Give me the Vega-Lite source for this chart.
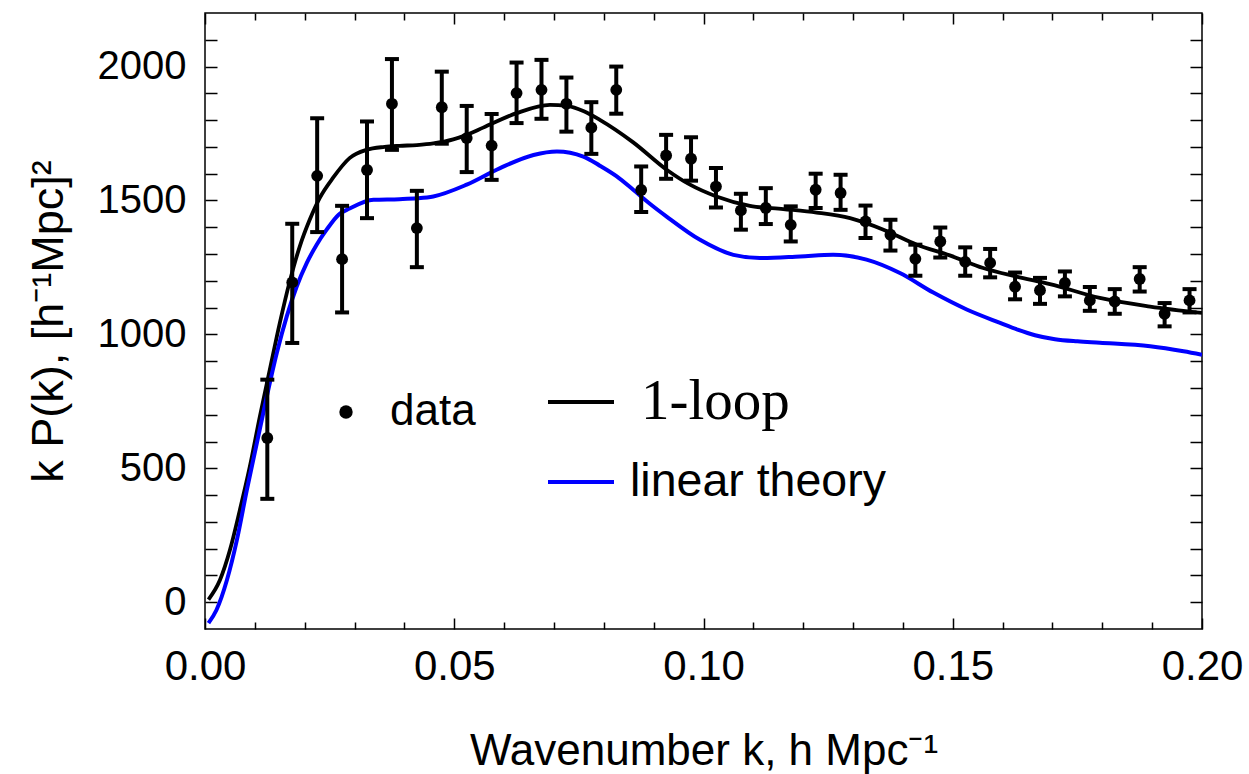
{
  "$schema": "https://vega.github.io/schema/vega-lite/v6.json",
  "width": 997,
  "height": 616,
  "autosize": "none",
  "padding": {"left": 205, "top": 13, "right": 47, "bottom": 145},
  "background": "white",
  "config": {
    "view": {"stroke": "black", "strokeWidth": 1.5},
    "font": "Liberation Sans",
    "axis": {
      "grid": false,
      "domain": false,
      "tickColor": "black",
      "tickWidth": 1.5,
      "labelColor": "black",
      "titleColor": "black",
      "labelFont": "Liberation Sans",
      "titleFont": "Liberation Sans",
      "titleFontWeight": "normal",
      "labelOverlap": false,
      "labelBound": false,
      "labelFlush": false
    },
    "legend": {"labelColor": "black", "labelFont": "Liberation Sans", "labelLimit": 0}
  },
  "datasets": {
    "loop": [
      {"k": 0.0007, "v": 10, "s": "1-loop"},
      {"k": 0.003, "v": 83, "s": "1-loop"},
      {"k": 0.005, "v": 195, "s": "1-loop"},
      {"k": 0.007, "v": 345, "s": "1-loop"},
      {"k": 0.009, "v": 507, "s": "1-loop"},
      {"k": 0.011, "v": 693, "s": "1-loop"},
      {"k": 0.013, "v": 868, "s": "1-loop"},
      {"k": 0.015, "v": 1042, "s": "1-loop"},
      {"k": 0.017, "v": 1198, "s": "1-loop"},
      {"k": 0.019, "v": 1328, "s": "1-loop"},
      {"k": 0.021, "v": 1428, "s": "1-loop"},
      {"k": 0.023, "v": 1509, "s": "1-loop"},
      {"k": 0.0257, "v": 1585, "s": "1-loop"},
      {"k": 0.029, "v": 1658, "s": "1-loop"},
      {"k": 0.0324, "v": 1689, "s": "1-loop"},
      {"k": 0.036, "v": 1700, "s": "1-loop"},
      {"k": 0.039, "v": 1704, "s": "1-loop"},
      {"k": 0.0425, "v": 1707, "s": "1-loop"},
      {"k": 0.0458, "v": 1713, "s": "1-loop"},
      {"k": 0.0498, "v": 1728, "s": "1-loop"},
      {"k": 0.0525, "v": 1745, "s": "1-loop"},
      {"k": 0.0558, "v": 1772, "s": "1-loop"},
      {"k": 0.0625, "v": 1826, "s": "1-loop"},
      {"k": 0.0692, "v": 1857, "s": "1-loop"},
      {"k": 0.0726, "v": 1853, "s": "1-loop"},
      {"k": 0.076, "v": 1833, "s": "1-loop"},
      {"k": 0.0792, "v": 1801, "s": "1-loop"},
      {"k": 0.0859, "v": 1717, "s": "1-loop"},
      {"k": 0.0926, "v": 1615, "s": "1-loop"},
      {"k": 0.0973, "v": 1559, "s": "1-loop"},
      {"k": 0.1026, "v": 1515, "s": "1-loop"},
      {"k": 0.1093, "v": 1480, "s": "1-loop"},
      {"k": 0.116, "v": 1468, "s": "1-loop"},
      {"k": 0.1227, "v": 1455, "s": "1-loop"},
      {"k": 0.1294, "v": 1434, "s": "1-loop"},
      {"k": 0.1361, "v": 1391, "s": "1-loop"},
      {"k": 0.1428, "v": 1335, "s": "1-loop"},
      {"k": 0.1494, "v": 1295, "s": "1-loop"},
      {"k": 0.1561, "v": 1248, "s": "1-loop"},
      {"k": 0.1628, "v": 1216, "s": "1-loop"},
      {"k": 0.1695, "v": 1188, "s": "1-loop"},
      {"k": 0.1795, "v": 1136, "s": "1-loop"},
      {"k": 0.1896, "v": 1104, "s": "1-loop"},
      {"k": 0.2, "v": 1080, "s": "1-loop"}
    ],
    "linear": [
      {"k": 0.0007, "v": -78, "s": "linear theory"},
      {"k": 0.0023, "v": -29, "s": "linear theory"},
      {"k": 0.0044, "v": 83, "s": "linear theory"},
      {"k": 0.0064, "v": 233, "s": "linear theory"},
      {"k": 0.0084, "v": 420, "s": "linear theory"},
      {"k": 0.0104, "v": 594, "s": "linear theory"},
      {"k": 0.0124, "v": 768, "s": "linear theory"},
      {"k": 0.0144, "v": 930, "s": "linear theory"},
      {"k": 0.0164, "v": 1067, "s": "linear theory"},
      {"k": 0.0184, "v": 1179, "s": "linear theory"},
      {"k": 0.0204, "v": 1266, "s": "linear theory"},
      {"k": 0.0224, "v": 1335, "s": "linear theory"},
      {"k": 0.0244, "v": 1391, "s": "linear theory"},
      {"k": 0.0268, "v": 1447, "s": "linear theory"},
      {"k": 0.029, "v": 1470, "s": "linear theory"},
      {"k": 0.0338, "v": 1503, "s": "linear theory"},
      {"k": 0.039, "v": 1505, "s": "linear theory"},
      {"k": 0.0425, "v": 1508, "s": "linear theory"},
      {"k": 0.0458, "v": 1515, "s": "linear theory"},
      {"k": 0.0525, "v": 1559, "s": "linear theory"},
      {"k": 0.0592, "v": 1621, "s": "linear theory"},
      {"k": 0.0659, "v": 1670, "s": "linear theory"},
      {"k": 0.0706, "v": 1683, "s": "linear theory"},
      {"k": 0.0759, "v": 1664, "s": "linear theory"},
      {"k": 0.0792, "v": 1630, "s": "linear theory"},
      {"k": 0.0826, "v": 1590, "s": "linear theory"},
      {"k": 0.0859, "v": 1540, "s": "linear theory"},
      {"k": 0.0893, "v": 1487, "s": "linear theory"},
      {"k": 0.0926, "v": 1440, "s": "linear theory"},
      {"k": 0.0993, "v": 1353, "s": "linear theory"},
      {"k": 0.106, "v": 1297, "s": "linear theory"},
      {"k": 0.1113, "v": 1285, "s": "linear theory"},
      {"k": 0.1194, "v": 1291, "s": "linear theory"},
      {"k": 0.126, "v": 1297, "s": "linear theory"},
      {"k": 0.1327, "v": 1279, "s": "linear theory"},
      {"k": 0.1394, "v": 1229, "s": "linear theory"},
      {"k": 0.1461, "v": 1156, "s": "linear theory"},
      {"k": 0.1528, "v": 1093, "s": "linear theory"},
      {"k": 0.1595, "v": 1043, "s": "linear theory"},
      {"k": 0.163, "v": 1018, "s": "linear theory"},
      {"k": 0.1665, "v": 997, "s": "linear theory"},
      {"k": 0.1705, "v": 982, "s": "linear theory"},
      {"k": 0.1750, "v": 974, "s": "linear theory"},
      {"k": 0.1795, "v": 969, "s": "linear theory"},
      {"k": 0.1896, "v": 956, "s": "linear theory"},
      {"k": 0.1963, "v": 937, "s": "linear theory"},
      {"k": 0.2, "v": 924, "s": "linear theory"}
    ],
    "points": [
      {"k": 0.0125, "v": 613, "lo": 386, "hi": 831, "s": "data"},
      {"k": 0.0175, "v": 1194, "lo": 968, "hi": 1413, "s": "data"},
      {"k": 0.0225, "v": 1592, "lo": 1382, "hi": 1807, "s": "data"},
      {"k": 0.0275, "v": 1281, "lo": 1082, "hi": 1480, "s": "data"},
      {"k": 0.0325, "v": 1614, "lo": 1434, "hi": 1795, "s": "data"},
      {"k": 0.0375, "v": 1861, "lo": 1689, "hi": 2028, "s": "data"},
      {"k": 0.0425, "v": 1397, "lo": 1251, "hi": 1536, "s": "data"},
      {"k": 0.0475, "v": 1848, "lo": 1712, "hi": 1981, "s": "data"},
      {"k": 0.0525, "v": 1733, "lo": 1606, "hi": 1853, "s": "data"},
      {"k": 0.0575, "v": 1705, "lo": 1577, "hi": 1823, "s": "data"},
      {"k": 0.0625, "v": 1901, "lo": 1789, "hi": 2015, "s": "data"},
      {"k": 0.0675, "v": 1913, "lo": 1805, "hi": 2025, "s": "data"},
      {"k": 0.0725, "v": 1861, "lo": 1757, "hi": 1959, "s": "data"},
      {"k": 0.0775, "v": 1772, "lo": 1674, "hi": 1867, "s": "data"},
      {"k": 0.0825, "v": 1913, "lo": 1824, "hi": 2000, "s": "data"},
      {"k": 0.0875, "v": 1539, "lo": 1457, "hi": 1627, "s": "data"},
      {"k": 0.0925, "v": 1668, "lo": 1581, "hi": 1745, "s": "data"},
      {"k": 0.0975, "v": 1656, "lo": 1574, "hi": 1736, "s": "data"},
      {"k": 0.1025, "v": 1552, "lo": 1474, "hi": 1621, "s": "data"},
      {"k": 0.1075, "v": 1463, "lo": 1391, "hi": 1525, "s": "data"},
      {"k": 0.1125, "v": 1472, "lo": 1412, "hi": 1546, "s": "data"},
      {"k": 0.1175, "v": 1409, "lo": 1347, "hi": 1478, "s": "data"},
      {"k": 0.1225, "v": 1540, "lo": 1472, "hi": 1600, "s": "data"},
      {"k": 0.1275, "v": 1528, "lo": 1465, "hi": 1596, "s": "data"},
      {"k": 0.1325, "v": 1422, "lo": 1360, "hi": 1481, "s": "data"},
      {"k": 0.1375, "v": 1372, "lo": 1313, "hi": 1428, "s": "data"},
      {"k": 0.1425, "v": 1282, "lo": 1219, "hi": 1335, "s": "data"},
      {"k": 0.1475, "v": 1347, "lo": 1287, "hi": 1399, "s": "data"},
      {"k": 0.1525, "v": 1271, "lo": 1219, "hi": 1325, "s": "data"},
      {"k": 0.1575, "v": 1267, "lo": 1213, "hi": 1319, "s": "data"},
      {"k": 0.1625, "v": 1178, "lo": 1131, "hi": 1231, "s": "data"},
      {"k": 0.1675, "v": 1165, "lo": 1114, "hi": 1211, "s": "data"},
      {"k": 0.1725, "v": 1192, "lo": 1142, "hi": 1235, "s": "data"},
      {"k": 0.1775, "v": 1127, "lo": 1088, "hi": 1177, "s": "data"},
      {"k": 0.1825, "v": 1123, "lo": 1077, "hi": 1169, "s": "data"},
      {"k": 0.1875, "v": 1207, "lo": 1160, "hi": 1251, "s": "data"},
      {"k": 0.1925, "v": 1077, "lo": 1030, "hi": 1117, "s": "data"},
      {"k": 0.1975, "v": 1127, "lo": 1082, "hi": 1169, "s": "data"}
    ]
  },
  "layer": [
    {
      "data": {"name": "loop"},
      "mark": {"type": "line", "strokeWidth": 3.8, "interpolate": "monotone", "clip": true},
      "encoding": {
        "x": {
          "field": "k", "type": "quantitative",
          "scale": {"domain": [0, 0.2], "nice": false, "zero": false},
          "axis": {
            "orient": "bottom",
            "values": [0, 0.05, 0.1, 0.15, 0.2],
            "format": ".2f",
            "tickSize": -11,
            "labelPadding": 28,
            "labelFontSize": 42,
            "title": "Wavenumber k, h Mpc⁻¹",
            "titleFontSize": 44,
            "titlePadding": 42
          }
        },
        "y": {
          "field": "v", "type": "quantitative",
          "scale": {"domain": [-100, 2200], "nice": false, "zero": false},
          "axis": {
            "orient": "left",
            "values": [0, 100, 200, 300, 400, 500, 600, 700, 800, 900, 1000, 1100, 1200, 1300, 1400, 1500, 1600, 1700, 1800, 1900, 2000, 2100],
            "labelExpr": "datum.value % 500 === 0 ? datum.label : ''",
            "format": "d",
            "tickSize": -12,
            "labelPadding": 31,
            "labelFontSize": 40,
            "title": "k P(k), [h⁻¹Mpc]²",
            "titleFontSize": 45,
            "titlePadding": 26
          }
        },
        "color": {
          "field": "s", "type": "nominal",
          "scale": {"domain": ["1-loop"], "range": ["#000000"]},
          "legend": {
            "orient": "none",
            "legendX": 341,
            "legendY": 354,
            "title": null,
            "padding": 0,
            "symbolType": "stroke",
            "symbolSize": 4356,
            "symbolStrokeWidth": 4,
            "labelFont": "Liberation Serif",
            "labelFontSize": 57,
            "labelOffset": 25
          }
        }
      }
    },
    {
      "data": {"name": "linear"},
      "mark": {"type": "line", "strokeWidth": 4, "interpolate": "monotone", "clip": true},
      "encoding": {
        "x": {"field": "k", "type": "quantitative", "axis": null},
        "y": {"field": "v", "type": "quantitative", "axis": null},
        "stroke": {
          "field": "s", "type": "nominal",
          "scale": {"domain": ["linear theory"], "range": ["#0000ff"]},
          "legend": {
            "orient": "none",
            "legendX": 341,
            "legendY": 434,
            "title": null,
            "padding": 0,
            "symbolType": "stroke",
            "symbolSize": 4356,
            "symbolStrokeWidth": 4,
            "labelFont": "Liberation Sans",
            "labelFontSize": 46.5,
            "labelOffset": 14
          }
        }
      }
    },
    {
      "data": {"name": "points"},
      "mark": {"type": "rule", "strokeWidth": 4, "color": "black"},
      "encoding": {
        "x": {
          "field": "k", "type": "quantitative",
          "axis": {
            "orient": "bottom",
            "values": [0.01, 0.02, 0.03, 0.04, 0.06, 0.07, 0.08, 0.09, 0.11, 0.12, 0.13, 0.14, 0.16, 0.17, 0.18, 0.19],
            "tickSize": -7,
            "labels": false,
            "title": null
          }
        },
        "y": {"field": "lo", "type": "quantitative", "axis": null},
        "y2": {"field": "hi"}
      }
    },
    {
      "data": {"name": "points"},
      "mark": {"type": "tick", "orient": "horizontal", "size": 14, "thickness": 4, "color": "black", "opacity": 1},
      "encoding": {
        "x": {
          "field": "k", "type": "quantitative",
          "axis": {
            "orient": "top",
            "values": [0, 0.05, 0.1, 0.15, 0.2],
            "tickSize": -11,
            "labels": false,
            "title": null
          }
        },
        "y": {
          "field": "lo", "type": "quantitative",
          "axis": {
            "orient": "right",
            "values": [0, 100, 200, 300, 400, 500, 600, 700, 800, 900, 1000, 1100, 1200, 1300, 1400, 1500, 1600, 1700, 1800, 1900, 2000, 2100],
            "tickSize": -12,
            "labels": false,
            "title": null
          }
        }
      }
    },
    {
      "data": {"name": "points"},
      "mark": {"type": "tick", "orient": "horizontal", "size": 14, "thickness": 4, "color": "black", "opacity": 1},
      "encoding": {
        "x": {
          "field": "k", "type": "quantitative",
          "axis": {
            "orient": "top",
            "values": [0.01, 0.02, 0.03, 0.04, 0.06, 0.07, 0.08, 0.09, 0.11, 0.12, 0.13, 0.14, 0.16, 0.17, 0.18, 0.19],
            "tickSize": -7,
            "labels": false,
            "title": null
          }
        },
        "y": {"field": "hi", "type": "quantitative", "axis": null}
      }
    },
    {
      "data": {"name": "points"},
      "mark": {"type": "point", "filled": true, "size": 140, "color": "black", "opacity": 1},
      "encoding": {
        "x": {"field": "k", "type": "quantitative", "axis": null},
        "y": {"field": "v", "type": "quantitative", "axis": null},
        "shape": {
          "field": "s", "type": "nominal",
          "scale": {"domain": ["data"], "range": ["circle"]},
          "legend": {
            "orient": "none",
            "legendX": 119,
            "legendY": 377,
            "title": null,
            "padding": 0,
            "symbolSize": 180,
            "symbolFillColor": "black",
            "symbolStrokeColor": "black",
            "symbolStrokeWidth": 0,
            "symbolOpacity": 1,
            "labelFontSize": 44,
            "labelOffset": 22
          }
        }
      }
    }
  ]
}
